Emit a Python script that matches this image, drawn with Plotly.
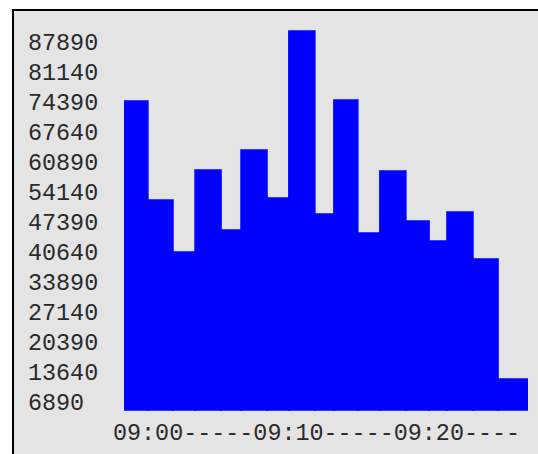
import numpy as np
import plotly.graph_objects as go

# ---- data ----
durations_s = [103, 108, 95, 112, 86, 112, 94, 112, 82, 103, 95, 112, 100, 77, 112, 108, 129]
values = [76415, 54140, 42440, 60890, 47390, 65390, 54590, 92165, 50990,
          76640, 46715, 60665, 49415, 44915, 51440, 40865, 13865]
y_tick_values = [6890, 13640, 20390, 27140, 33890, 40640, 47390, 54140,
                 60890, 67640, 74390, 81140, 87890]
y_tick_labels = [str(v) for v in y_tick_values]
x_axis_label = "09:00-----09:10-----09:20----"

# ---- geometry / style ----
W, H = 538, 454
L, R, T, B = 20, 10, 12, 30
PX_PER_UNIT = 1 / 225.0
plot_w = W - L - R
plot_h = H - T - B
x_dom0 = (124 - L) / plot_w
axis_floor = y_tick_values[0]              # bars rise from the lowest tick
floor_px = 410                              # page y of the lowest tick
y_min = axis_floor - (H - B - floor_px) / PX_PER_UNIT
y_max = y_min + plot_h / PX_PER_UNIT
GRAY = "#e4e4e4"
FONT = dict(family="Liberation Mono, Courier New, monospace", size=23.4, color="#2a2a2a")

def px_x(p):
    return (p - L) / plot_w

def px_y(p):
    return (H - B - p) / plot_h

dur = np.array(durations_s, dtype=float)
starts = np.concatenate([[0.0], np.cumsum(dur)[:-1]])
centers = starts + dur / 2
total = float(dur.sum())
vals = np.array(values, dtype=float)

fig = go.Figure(go.Bar(
    x=centers, y=vals - axis_floor, base=axis_floor, width=dur,
    marker=dict(color="#0000ff", line=dict(width=1.5, color="#0000ff")),
    hoverinfo="skip",
))

fig.update_layout(
    template="none",
    width=W, height=H,
    margin=dict(l=L, r=R, t=T, b=B, pad=0),
    paper_bgcolor="white",
    plot_bgcolor=GRAY,
    showlegend=False,
    font=FONT,
    xaxis=dict(domain=[x_dom0, 1], range=[0, total], showticklabels=False,
               showgrid=False, zeroline=False, showline=False, ticks="",
               automargin=False, fixedrange=True),
    yaxis=dict(range=[y_min, y_max], anchor="free", position=0,
               tickmode="array", tickvals=y_tick_values, ticktext=y_tick_labels,
               ticklabelposition="inside", ticks="", showgrid=False,
               zeroline=False, showline=False, automargin=False,
               ticklabelshift=-8, ticklabelstandoff=4,
               tickfont=FONT, fixedrange=True),
    shapes=[
        dict(type="rect", xref="paper", yref="paper", layer="below",
             x0=px_x(13), x1=px_x(560), y0=px_y(480), y1=px_y(10),
             fillcolor=GRAY, line=dict(width=0)),
        dict(type="line", xref="paper", yref="paper", layer="above",
             x0=px_x(13), x1=px_x(13), y0=px_y(480), y1=px_y(9),
             line=dict(color="black", width=2)),
        dict(type="line", xref="paper", yref="paper", layer="above",
             x0=px_x(12), x1=px_x(560), y0=px_y(10), y1=px_y(10),
             line=dict(color="black", width=2)),
    ],
    annotations=[
        dict(text=x_axis_label, xref="paper", yref="paper",
             x=px_x(111), y=px_y(449), xanchor="left", yanchor="bottom",
             showarrow=False, font=FONT),
    ],
)

fig.write_html("out.html", config={"displayModeBar": False},
               post_script="document.body.style.margin='0';document.body.style.overflow='hidden';")
